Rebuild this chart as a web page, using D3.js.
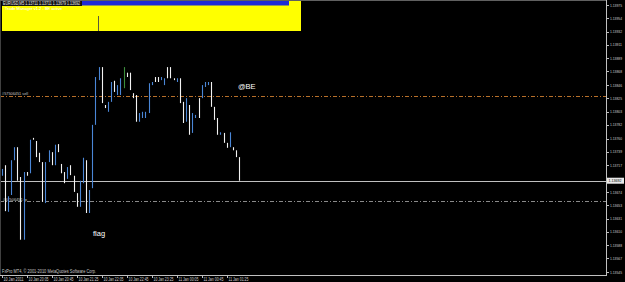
<!DOCTYPE html>
<html>
<head>
<meta charset="utf-8">
<script src="https://cdn.jsdelivr.net/npm/d3@7"></script>
<style>
body { margin: 0; background: #000; }
svg { display: block; }
text { font-family: "Liberation Sans", Arial, sans-serif; }
</style>
</head>
<body>
<svg id="chart" width="625" height="282"></svg>
<script>
// EURUSD M5 bars
var opens = [1.13700,1.13717,1.13642,1.13669,1.13725,1.13746,1.13698,1.13597,1.13706,1.13704,
  1.13761,1.13756,1.13737,1.13722,1.13656,1.13722,1.13738,1.13717,1.13751,1.13719,
  1.13706,1.13695,1.13717,1.13700,1.13672,1.13650,1.13688,1.13725,1.13640,1.13680,
  1.13782,1.13854,1.13875,1.13814,1.13803,1.13819,1.13853,1.13830,1.13830,1.13858,
  1.13866,1.13866,1.13833,1.13830,1.13787,1.13793,1.13793,1.13801,1.13846,1.13859,
  1.13859,1.13854,1.13846,1.13875,1.13875,1.13857,1.13851,1.13857,1.13819,1.13787,
  1.13814,1.13769,1.13793,1.13825,1.13825,1.13843,1.13846,1.13851,1.13811,1.13793,
  1.13766,1.13769,1.13753,1.13746,1.13746,1.13741,1.13730]
var highs = [1.13711,1.13717,1.13667,1.13725,1.13746,1.13746,1.13698,1.13706,1.13706,1.13758,
  1.13761,1.13756,1.13737,1.13722,1.13722,1.13741,1.13738,1.13750,1.13751,1.13719,
  1.13706,1.13714,1.13717,1.13700,1.13672,1.13692,1.13729,1.13725,1.13677,1.13782,
  1.13859,1.13875,1.13875,1.13814,1.13819,1.13851,1.13853,1.13846,1.13857,1.13875,
  1.13866,1.13866,1.13833,1.13830,1.13801,1.13803,1.13803,1.13849,1.13851,1.13859,
  1.13859,1.13859,1.13857,1.13875,1.13875,1.13857,1.13857,1.13857,1.13819,1.13825,
  1.13814,1.13801,1.13798,1.13825,1.13846,1.13851,1.13851,1.13851,1.13811,1.13793,
  1.13770,1.13769,1.13753,1.13770,1.13746,1.13741,1.13730]
var lows = [1.13700,1.13643,1.13642,1.13669,1.13725,1.13692,1.13597,1.13597,1.13700,1.13704,
  1.13758,1.13730,1.13722,1.13658,1.13656,1.13722,1.13717,1.13717,1.13738,1.13704,
  1.13688,1.13695,1.13701,1.13674,1.13650,1.13650,1.13688,1.13640,1.13640,1.13680,
  1.13782,1.13854,1.13817,1.13809,1.13803,1.13819,1.13835,1.13830,1.13830,1.13841,
  1.13859,1.13838,1.13825,1.13787,1.13787,1.13793,1.13793,1.13801,1.13846,1.13851,
  1.13851,1.13854,1.13846,1.13857,1.13857,1.13854,1.13851,1.13817,1.13785,1.13787,
  1.13766,1.13769,1.13793,1.13793,1.13825,1.13843,1.13846,1.13811,1.13790,1.13766,
  1.13766,1.13753,1.13745,1.13746,1.13741,1.13730,1.13692]
var closes = [1.13711,1.13643,1.13667,1.13725,1.13746,1.13692,1.13597,1.13706,1.13700,1.13758,
  1.13758,1.13730,1.13722,1.13658,1.13722,1.13741,1.13717,1.13750,1.13738,1.13704,
  1.13688,1.13714,1.13701,1.13674,1.13650,1.13692,1.13729,1.13640,1.13677,1.13782,
  1.13859,1.13875,1.13817,1.13809,1.13819,1.13851,1.13835,1.13846,1.13857,1.13858,
  1.13859,1.13838,1.13825,1.13787,1.13801,1.13803,1.13803,1.13849,1.13851,1.13851,
  1.13851,1.13859,1.13857,1.13857,1.13857,1.13854,1.13857,1.13817,1.13785,1.13825,
  1.13766,1.13801,1.13798,1.13793,1.13846,1.13851,1.13851,1.13811,1.13790,1.13766,
  1.13770,1.13753,1.13745,1.13770,1.13741,1.13730,1.13692]

var timeLabels = ["10 Jan 2011","10 Jan 20:05","10 Jan 20:45","10 Jan 21:25","10 Jan 22:05",
  "10 Jan 22:45","10 Jan 23:25","11 Jan 00:05","11 Jan 00:45","11 Jan 01:25"]
var timeLabelBars = [0,8,16,24,32,40,48,56,64,72]

var priceTicks = [1.13975,1.13954,1.13932,1.13911,1.13889,1.13868,1.13846,1.13825,1.13803,1.13782,
  1.13760,1.13739,1.13717,1.13696,1.13674,1.13653,1.13631,1.13610,1.13588,1.13567,1.13545]

var bid = 1.13692
var sellPrice = 1.13828
var tpPrice = 1.13659

var svg = d3.select('#chart')
var W = 606, H = 275

var x = d3.scaleLinear().domain([0, 1]).range([1.7, 1.7 + 3.125])
var y = d3.scaleLinear().domain([1.13545, 1.13975]).range([272, 5])
var px = (i)=> Math.round(x(i)) + 0.5

// small MT4-style text, squeezed to the width seen on screen
function label(sel, w){
  return sel.attr('textLength', w).attr('lengthAdjust', 'spacingAndGlyphs')
}

// yellow info panel
svg.append('rect').attr('x', 2).attr('y', 1).attr('width', 299).attr('height', 30).attr('fill', '#ffff00')
svg.append('rect').attr('x', 2).attr('y', 1).attr('width', 287).attr('height', 4.5).attr('fill', '#1f2bd6')
svg.append('rect').attr('x', 2).attr('y', 1).attr('width', 80).attr('height', 5).attr('fill', '#141414')
label(svg.append('text').attr('x', 3).attr('y', 5).attr('font-size', 4.6).attr('fill', '#e8e8e8')
  .text('EURUSD,M5  1.13711 1.13711 1.13679 1.13692'), 77)
label(svg.append('text').attr('x', 5).attr('y', 9.5).attr('font-size', 4.2).attr('fill', '#ffffff')
  .text('Trade Manager v1.2 - BE active'), 57)
svg.append('line').attr('x1', 98.5).attr('x2', 98.5).attr('y1', 16).attr('y2', 31)
  .attr('stroke', '#5a5a3a')

// order lines
svg.append('line').attr('x1', 0).attr('x2', W).attr('y1', Math.round(y(sellPrice)) + 0.5).attr('y2', Math.round(y(sellPrice)) + 0.5)
  .attr('stroke', '#b8702a').attr('stroke-dasharray', '4,2,1,2')
label(svg.append('text').attr('x', 2).attr('y', y(sellPrice) - 1.5).attr('font-size', 4.4).attr('fill', '#c8c8c8')
  .text('#57506451 sell'), 26)
svg.append('line').attr('x1', 0).attr('x2', W).attr('y1', Math.round(y(tpPrice)) + 0.5).attr('y2', Math.round(y(tpPrice)) + 0.5)
  .attr('stroke', '#8a8a8a').attr('stroke-dasharray', '4,2,1,2')
label(svg.append('text').attr('x', 3).attr('y', y(tpPrice) - 0.5).attr('font-size', 4.4).attr('fill', '#c8c8c8')
  .text('#57506451 tp'), 24)

// bid line
svg.append('line').attr('x1', 0).attr('x2', W).attr('y1', Math.round(y(bid)) + 0.5).attr('y2', Math.round(y(bid)) + 0.5)
  .attr('stroke', '#c0c0c0')

// bars
var color = (i)=> closes[i] > opens[i] ? '#4a86d6' : (closes[i] < opens[i] ? '#f2f2f2' : '#3c8c3c')
svg.append('g').selectAll('line')
  .data(highs)
  .enter()
  .append('line')
  .attr('x1', (d, i)=> px(i))
  .attr('x2', (d, i)=> px(i))
  .attr('y1', (d)=> y(d))
  .attr('y2', (d, i)=> Math.max(y(lows[i]), y(d) + 1))
  .attr('stroke', (d, i)=> color(i))
  .attr('stroke-width', 1.1)

// text objects
svg.append('text').attr('x', 238).attr('y', 89).attr('font-size', 7.5).attr('fill', '#ffffff').text('@BE')
svg.append('text').attr('x', 93).attr('y', 236).attr('font-size', 7.5).attr('fill', '#ffffff').text('flag')
label(svg.append('text').attr('x', 2).attr('y', 272.5).attr('font-size', 4.6).attr('fill', '#c8c8c8')
  .text('FxPro MT4, © 2001-2010 MetaQuotes Software Corp.'), 94)

// frame and axes
svg.append('line').attr('x1', 0.5).attr('x2', 0.5).attr('y1', 0).attr('y2', H).attr('stroke', '#404040')
svg.append('line').attr('x1', 0).attr('x2', W).attr('y1', 0.5).attr('y2', 0.5).attr('stroke', '#606060')
svg.append('line').attr('x1', W + 0.5).attr('x2', W + 0.5).attr('y1', 0).attr('y2', H + 1).attr('stroke', '#c0c0c0')
svg.append('line').attr('x1', 0).attr('x2', W + 1).attr('y1', H + 0.5).attr('y2', H + 0.5).attr('stroke', '#c0c0c0')

var pt = svg.append('g').selectAll('g')
  .data(priceTicks.filter((d)=> Math.abs(y(d) - y(bid)) > 4))
  .enter()
  .append('g')
pt.append('line').attr('x1', W).attr('x2', W + 3).attr('y1', (d)=> Math.round(y(d)) + 0.5).attr('y2', (d)=> Math.round(y(d)) + 0.5)
  .attr('stroke', '#c0c0c0')
label(pt.append('text').attr('x', W + 4).attr('y', (d)=> y(d) + 1.6).attr('font-size', 4.4).attr('fill', '#d0d0d0')
  .text((d)=> d.toFixed(5)), 12)

svg.append('rect').attr('x', W + 1).attr('y', y(bid) - 3).attr('width', 17).attr('height', 6).attr('fill', '#e8e8e8')
label(svg.append('text').attr('x', W + 2.5).attr('y', y(bid) + 1.6).attr('font-size', 4.4).attr('fill', '#000').text(bid.toFixed(5)), 13)

var tt = svg.append('g').selectAll('g')
  .data(timeLabels)
  .enter()
  .append('g')
tt.append('line').attr('x1', (d, i)=> px(timeLabelBars[i])).attr('x2', (d, i)=> px(timeLabelBars[i]))
  .attr('y1', H).attr('y2', H + 3).attr('stroke', '#c0c0c0')
label(tt.append('text').attr('x', (d, i)=> px(timeLabelBars[i]) + 1).attr('y', 280.5).attr('font-size', 4.6).attr('fill', '#d0d0d0')
  .text((d)=> d), 20)
</script>
</body>
</html>
